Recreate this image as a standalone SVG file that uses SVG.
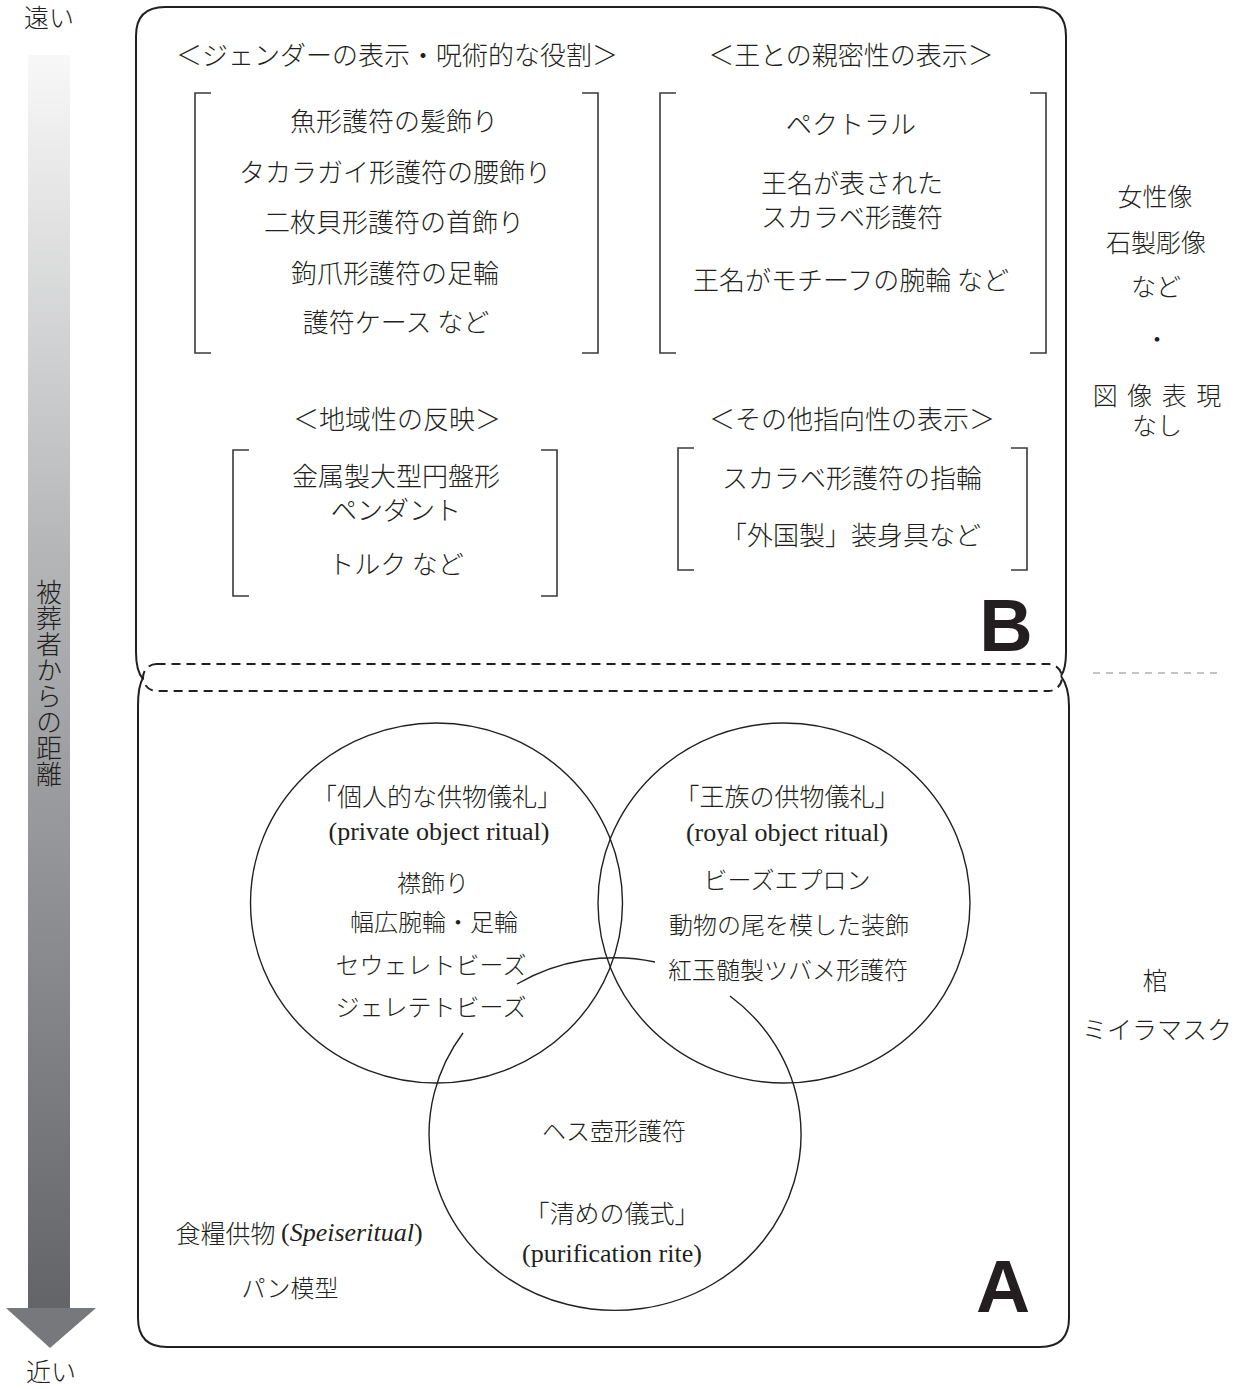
<svg xmlns="http://www.w3.org/2000/svg" width="1244" height="1389" viewBox="0 0 1244 1389">
<defs>
<linearGradient id="shaftGrad" x1="0" y1="55" x2="0" y2="1310" gradientUnits="userSpaceOnUse">
<stop offset="0" stop-color="#f8f8f8"/>
<stop offset="0.4" stop-color="#b4b5b7"/>
<stop offset="1" stop-color="#636468"/>
</linearGradient>
<style>
text{font-family:"Noto Sans CJK JP","Noto Sans",sans-serif;fill:#231f20;dominant-baseline:central;text-anchor:middle}
.t26,.t25,.t24{font-weight:300;transform:translate(0px,-2px)}
.t26{font-size:26px}
.t24{font-size:24px}
.t25{font-size:25px}
.ser{font-family:"Liberation Serif","Noto Sans CJK JP",serif;font-size:26px;font-weight:normal}
.big{font-family:"Liberation Sans",sans-serif;font-weight:bold;font-size:75px;dominant-baseline:alphabetic}
.box{fill:none;stroke:#231f20;stroke-width:2}
.br{fill:none;stroke:#3a3a3a;stroke-width:1.6}
.circ{fill:none;stroke:#231f20;stroke-width:1.4}
</style>
</defs>
<rect width="1244" height="1389" fill="#ffffff"/>

<g id="axis">
<rect x="28" y="55" width="42" height="1256" fill="url(#shaftGrad)"/>
<polygon points="6,1308 96,1308 50,1348" fill="#77787b"/>
<text x="49" y="18" class="t25">遠い</text>
<text x="51" y="1372" class="t25">近い</text>
<text x="49" y="685" class="t26" style="writing-mode:vertical-rl;glyph-orientation-vertical:0">被葬者からの距離</text>
</g>

<g id="boxB">
<path class="box" d="M143,679 Q136,671 136,652 L136,36 Q136,7 165,7 L1037,7 Q1066,7 1066,36 L1066,652 Q1066,669 1061,676"/>
<text x="1006" y="651" class="big" style="font-size:74px">B</text>
</g>

<g id="boxA">
<path class="box" d="M143,678 Q138,686 138,706 L138,1318 Q138,1347 167,1347 L1040,1347 Q1069,1347 1069,1318 L1069,706 Q1069,687 1061,676"/>
<text x="1003" y="1312" class="big">A</text>
</g>

<g id="boundary">
<rect x="143" y="664" width="919" height="27" rx="13.5" ry="13.5" fill="none" stroke="#231f20" stroke-width="2" stroke-dasharray="9 6"/>
<line x1="1093" y1="673" x2="1222" y2="673" stroke="#8a8a8a" stroke-width="1.2" stroke-dasharray="7 6"/>
</g>

<g id="gender">
<text x="397" y="55" class="t26">＜ジェンダーの表示・呪術的な役割＞</text>
<path class="br" d="M211,93 H195 V353 H211"/>
<path class="br" d="M582,93 H598 V353 H582"/>
<text x="394" y="121" class="t26">魚形護符の髪飾り</text>
<text x="395" y="172" class="t26">タカラガイ形護符の腰飾り</text>
<text x="394" y="222" class="t26">二枚貝形護符の首飾り</text>
<text x="395" y="273" class="t26">鉤爪形護符の足輪</text>
<text x="396" y="322" class="t26">護符ケース など</text>
</g>

<g id="king">
<text x="851" y="55" class="t26">＜王との親密性の表示＞</text>
<path class="br" d="M676,93 H660 V353 H676"/>
<path class="br" d="M1030,93 H1046 V353 H1030"/>
<text x="851" y="124" class="t26">ペクトラル</text>
<text x="852" y="183" class="t26">王名が表された</text>
<text x="852" y="217" class="t26">スカラベ形護符</text>
<text x="851" y="280" class="t26">王名がモチーフの腕輪 など</text>
</g>

<g id="region">
<text x="397" y="419" class="t26">＜地域性の反映＞</text>
<path class="br" d="M249,450 H233 V596 H249"/>
<path class="br" d="M541,450 H557 V596 H541"/>
<text x="396" y="476" class="t26">金属製大型円盤形</text>
<text x="396" y="510" class="t26">ペンダント</text>
<text x="396" y="564" class="t26">トルク など</text>
</g>

<g id="other">
<text x="852" y="419" class="t26">＜その他指向性の表示＞</text>
<path class="br" d="M694,448 H678 V570 H694"/>
<path class="br" d="M1011,448 H1027 V570 H1011"/>
<text x="852" y="478" class="t26">スカラベ形護符の指輪</text>
<text x="851" y="535" class="t26">「外国製」装身具など</text>
</g>

<g id="rightNotes">
<text x="1155" y="197" class="t25">女性像</text>
<text x="1156" y="243" class="t25">石製彫像</text>
<text x="1156" y="287" class="t25">など</text>
<text x="1157" y="340" class="t25">・</text>
<text x="1158" y="396" class="t25" style="letter-spacing:2px">図 像 表 現</text>
<text x="1157" y="426" class="t25">なし</text>
<text x="1155" y="981" class="t25">棺</text>
<text x="1157" y="1030" class="t25">ミイラマスク</text>
</g>

<g id="connectors">
<ellipse class="circ" cx="436.5" cy="903" rx="186" ry="180"/>
<ellipse class="circ" cx="784" cy="903" rx="186" ry="180"/>
<path class="circ" d="M517,984 A186,176 0 0 1 655,962"/>
<path class="circ" d="M730,996 A186,176 0 1 1 463,1033"/>
</g>

<g id="private">
<text x="437" y="797" class="t25">「個人的な供物儀礼」</text>
<text x="439" y="831" class="ser">(private object ritual)</text>
<text x="433" y="883" class="t24">襟飾り</text>
<text x="434" y="922" class="t24">幅広腕輪・足輪</text>
<text x="431" y="965" class="t24">セウェレトビーズ</text>
<text x="431" y="1007" class="t24">ジェレテトビーズ</text>
</g>

<g id="royal">
<text x="787" y="797" class="t25">「王族の供物儀礼」</text>
<text x="787" y="832" class="ser">(royal object ritual)</text>
<text x="787" y="880" class="t24">ビーズエプロン</text>
<text x="789" y="925" class="t24">動物の尾を模した装飾</text>
<text x="788" y="970" class="t24">紅玉髄製ツバメ形護符</text>
</g>

<g id="purification">
<text x="614" y="1131" class="t24">ヘス壺形護符</text>
<text x="612" y="1214" class="t25">「清めの儀式」</text>
<text x="612" y="1253" class="ser">(purification rite)</text>
</g>

<g id="food">
<text x="299" y="1234" class="t25">食糧供物 <tspan class="ser">(</tspan><tspan class="ser" font-style="italic">Speiseritual</tspan><tspan class="ser">)</tspan></text>
<text x="290" y="1288" class="t24">パン模型</text>
</g>
</svg>
